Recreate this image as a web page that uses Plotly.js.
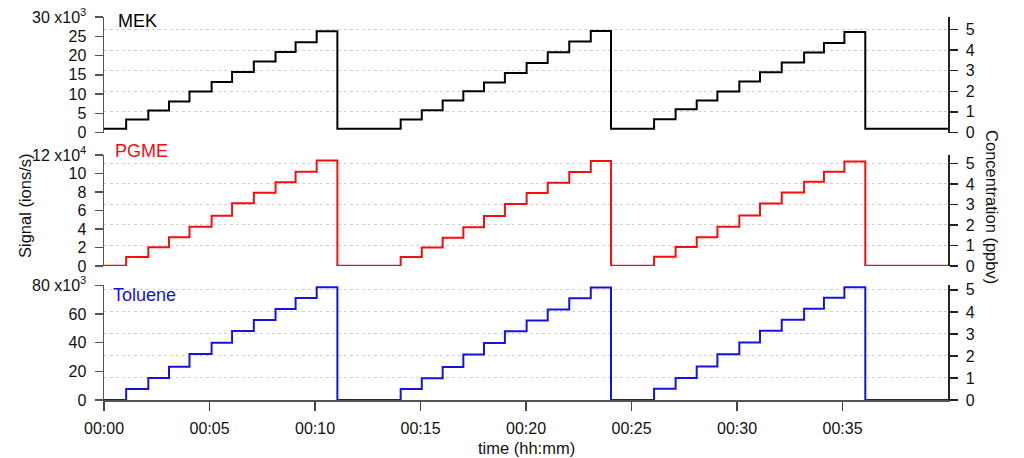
<!DOCTYPE html>
<html>
<head>
<meta charset="utf-8">
<script src="https://cdn.plot.ly/plotly-3.0.1.min.js"></script>
<style>html,body{margin:0;padding:0;background:#fff;}#chart{width:1024px;height:458px;}</style>
</head>
<body>
<div id="chart"></div>
<script>
// ---- data (time in minutes) ----
const cycle1Steps = [1.05, 2.10, 3.08, 4.05, 5.10, 6.07, 7.10, 8.13, 9.08, 10.08];
const cycle1Drop = 11.06;
const cycle2Steps = [14.06, 15.06, 16.05, 17.03, 18.01, 19.00, 20.03, 21.03, 22.05, 23.07];
const cycle2Drop = 24.03;
const cycle3Steps = [26.07, 27.09, 28.09, 29.07, 30.11, 31.09, 32.12, 33.18, 34.12, 35.09];
const cycle3Drop = 36.08;
const timeEnd = 40;

// MEK signal (x10^3 ions/s)
const mekBase = 1.0;
const mekC1 = [3.38, 5.71, 8.05, 10.65, 13.14, 15.74, 18.44, 20.94, 23.45, 26.31];
const mekC2 = [3.38, 5.79, 8.31, 10.73, 12.99, 15.48, 18.08, 20.86, 23.64, 26.39];
const mekC3 = [3.45, 6.05, 8.31, 10.65, 13.25, 15.66, 18.18, 20.78, 23.27, 26.13];

// PGME signal (x10^4 ions/s)
const pgmeBase = 0.02;
const pgmeC1 = [0.97, 2.02, 3.10, 4.25, 5.44, 6.78, 7.93, 9.05, 10.20, 11.40];
const pgmeC2 = [0.98, 2.00, 3.05, 4.20, 5.40, 6.70, 7.90, 9.00, 10.15, 11.35];
const pgmeC3 = [1.00, 2.05, 3.10, 4.25, 5.45, 6.75, 7.95, 9.10, 10.20, 11.30];

// Toluene signal (x10^3 ions/s)
const tolBase = 0.0;
const tolC1 = [7.7, 15.3, 23.3, 32.2, 40.0, 48.2, 55.8, 63.5, 71.3, 78.8];
const tolC2 = [7.6, 15.2, 23.1, 31.8, 39.8, 48.0, 55.6, 63.2, 71.0, 78.6];
const tolC3 = [7.8, 15.4, 23.4, 32.0, 40.2, 48.3, 56.0, 63.8, 71.5, 78.7];

const xTickVals = [0, 5, 10, 15, 20, 25, 30, 35];
const xTickText = ['00:00', '00:05', '00:10', '00:15', '00:20', '00:25', '00:30', '00:35'];
const concTicks = [0, 1, 2, 3, 4, 5];

function buildSeries(base, cycles) {
  const x = [0], y = [base];
  cycles.forEach(c => {
    c.steps.forEach((t, i) => { x.push(t); y.push(c.levels[i]); });
    x.push(c.drop); y.push(base);
  });
  x.push(timeEnd); y.push(base);
  return {x, y};
}

const mek = buildSeries(mekBase, [
  {steps: cycle1Steps, levels: mekC1, drop: cycle1Drop},
  {steps: cycle2Steps, levels: mekC2, drop: cycle2Drop},
  {steps: cycle3Steps, levels: mekC3, drop: cycle3Drop}]);
const pgme = buildSeries(pgmeBase, [
  {steps: cycle1Steps, levels: pgmeC1, drop: cycle1Drop},
  {steps: cycle2Steps, levels: pgmeC2, drop: cycle2Drop},
  {steps: cycle3Steps, levels: pgmeC3, drop: cycle3Drop}]);
const tol = buildSeries(tolBase, [
  {steps: cycle1Steps, levels: tolC1, drop: cycle1Drop},
  {steps: cycle2Steps, levels: tolC2, drop: cycle2Drop},
  {steps: cycle3Steps, levels: tolC3, drop: cycle3Drop}]);

const FONT = '"Liberation Sans", Arial, sans-serif';
const RED = '#f01010';
const BLUE = '#1414dc';

function line(s, ya, color) {
  return {x: s.x, y: s.y, xaxis: 'x', yaxis: ya, type: 'scatter', mode: 'lines',
    line: {color: color, width: 2, shape: 'hv'}, hoverinfo: 'skip', showlegend: false};
}
function dummy(ya) {
  return {x: [0], y: [0], xaxis: 'x', yaxis: ya, type: 'scatter', mode: 'lines',
    line: {width: 0}, hoverinfo: 'skip', showlegend: false};
}

const data = [
  dummy('y2'), dummy('y4'), dummy('y6'),
  line(mek, 'y', '#000000'),
  line(pgme, 'y3', RED),
  line(tol, 'y5', BLUE)
];

function leftAxis(domain, range, vals, text) {
  return {domain: domain, range: range, anchor: 'x', side: 'left',
    tickmode: 'array', tickvals: vals, ticktext: text,
    showgrid: false, zeroline: false, showline: true, linecolor: '#555', linewidth: 1.5,
    ticks: 'outside', ticklen: 8, tickcolor: '#555', tickwidth: 1.5, ticklabelstandoff: 5,
    tickfont: {family: FONT, size: 16, color: '#111'}, fixedrange: true};
}
function rightAxis(over, domain, top) {
  return {domain: domain, range: [0, top], overlaying: over, anchor: 'x', side: 'right',
    tickmode: 'array', tickvals: concTicks,
    showgrid: true, gridcolor: '#d2d2d2', griddash: 'dot', gridwidth: 1,
    zeroline: false, showline: true, linecolor: '#222', linewidth: 1.5,
    ticks: 'outside', ticklen: 8, tickcolor: '#222', tickwidth: 1.5, ticklabelstandoff: 5,
    tickfont: {family: FONT, size: 16, color: '#111'}, fixedrange: true};
}

const domTop = [0.6984, 1.0];
const domMid = [0.3499, 0.6397];
const domBot = [0.0, 0.299];

const layout = {
  width: 1024, height: 458,
  margin: {l: 104, r: 76, t: 17, b: 58},
  paper_bgcolor: '#fff', plot_bgcolor: 'rgba(0,0,0,0)',
  font: {family: FONT, size: 16, color: '#111'},
  showlegend: false,
  xaxis: {domain: [0, 1], range: [0, timeEnd], anchor: 'y5',
    tickmode: 'array', tickvals: xTickVals, ticktext: xTickText,
    showgrid: false, zeroline: false, showline: true, linecolor: '#555', linewidth: 2,
    ticks: 'outside', ticklen: 9, tickcolor: '#444', tickwidth: 1.5, ticklabelstandoff: 4,
    tickfont: {family: FONT, size: 16, color: '#111'}, fixedrange: true},
  yaxis: leftAxis(domTop, [0, 30], [0, 5, 10, 15, 20, 25, 30],
    ['0', '5', '10', '15', '20', '25', '30 x10<sup>3</sup>']),
  yaxis2: rightAxis('y', domTop, 5.6),
  yaxis3: leftAxis(domMid, [0, 12], [0, 2, 4, 6, 8, 10, 12],
    ['0', '2', '4', '6', '8', '10', '12 x10<sup>4</sup>']),
  yaxis4: rightAxis('y3', domMid, 5.41),
  yaxis5: leftAxis(domBot, [0, 80], [0, 20, 40, 60, 80],
    ['0', '20', '40', '60', '80 x10<sup>3</sup>']),
  yaxis6: rightAxis('y5', domBot, 5.2),
  annotations: [
    {text: 'MEK', xref: 'paper', yref: 'paper', x: 0.0142, y: 0.9896, xanchor: 'left', yanchor: 'middle',
      showarrow: false, font: {family: FONT, size: 18, color: '#000'}},
    {text: 'PGME', xref: 'paper', yref: 'paper', x: 0.0107, y: 0.650, xanchor: 'left', yanchor: 'middle',
      showarrow: false, font: {family: FONT, size: 18, color: RED}},
    {text: 'Toluene', xref: 'paper', yref: 'paper', x: 0.0083, y: 0.274, xanchor: 'left', yanchor: 'middle',
      showarrow: false, font: {family: FONT, size: 18, color: BLUE}},
    {text: 'Signal (ions/s)', xref: 'paper', yref: 'paper', x: -0.0936, y: 0.5065, xanchor: 'center', yanchor: 'middle',
      textangle: -90, showarrow: false, font: {family: FONT, size: 16.5, color: '#111'}},
    {text: 'Concentration (ppbv)', xref: 'paper', yref: 'paper', x: 1.052, y: 0.504, xanchor: 'center', yanchor: 'middle',
      textangle: 90, showarrow: false, font: {family: FONT, size: 16.5, color: '#111'}},
    {text: 'time (hh:mm)', xref: 'paper', yref: 'paper', x: 0.5, y: -0.125, xanchor: 'center', yanchor: 'middle',
      showarrow: false, font: {family: FONT, size: 16.5, color: '#111'}}
  ]
};

Plotly.newPlot('chart', data, layout, {staticPlot: true, displayModeBar: false});
</script>
</body>
</html>
